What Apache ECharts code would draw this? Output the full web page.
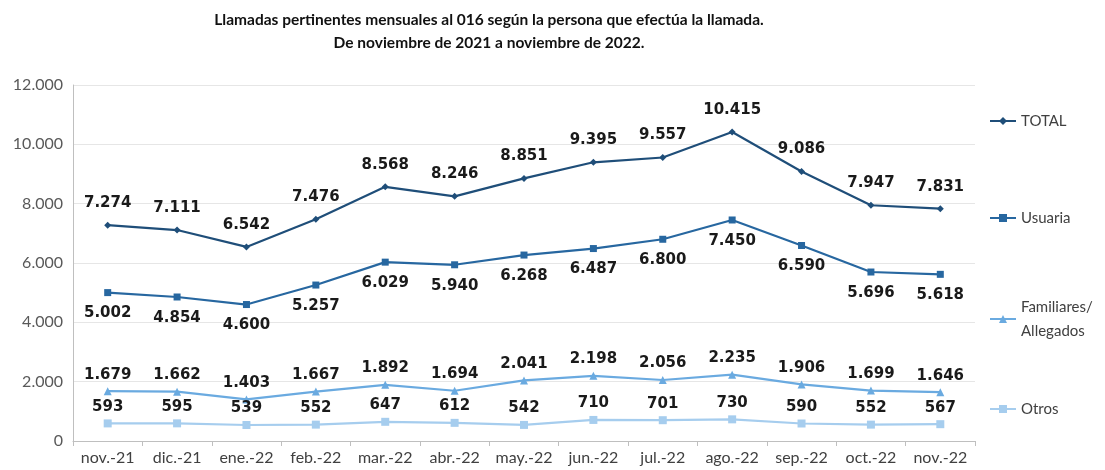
<!DOCTYPE html>
<html><head><meta charset="utf-8">
<script src="https://cdn.jsdelivr.net/npm/echarts@6/dist/echarts.min.js"></script>
<style>html,body{margin:0;padding:0;background:#fff}#c{width:1105px;height:470px}</style>
</head><body><div id="c"></div>
<script>
var categories = ['nov.-21','dic.-21','ene.-22','feb.-22','mar.-22','abr.-22','may.-22','jun.-22','jul.-22','ago.-22','sep.-22','oct.-22','nov.-22'];
var total = [7274,7111,6542,7476,8568,8246,8851,9395,9557,10415,9086,7947,7831];
var usuaria = [5002,4854,4600,5257,6029,5940,6268,6487,6800,7450,6590,5696,5618];
var familiares = [1679,1662,1403,1667,1892,1694,2041,2198,2056,2235,1906,1699,1646];
var otros = [593,595,539,552,647,612,542,710,701,730,590,552,567];
var seriesNames = ['TOTAL','Usuaria','Familiares/\nAllegados','Otros'];
var colors = ['#1F4E79','#2767A0','#6AAAE0','#A6CDEE'];

var fmt = function(v){ return String(v).replace(/\B(?=(\d{3})+(?!\d))/g,'.'); };
var font = "'Lato','Open Sans',sans-serif";
var boldFont = "'DejaVu Sans',sans-serif";
var chart = echarts.init(document.getElementById('c'));
function lab(pos, dist){
  return {show:true, position:pos, distance:dist, fontSize:15, fontWeight:'bold', color:'#1a1a1a', fontFamily:boldFont,
    formatter:function(p){return fmt(p.value);}};
}
function legend(i, top){
  return {data:[seriesNames[i]], left:984, top:top, orient:'vertical', itemWidth:26, itemHeight:10, itemGap:0,
    textStyle:{fontSize:15, color:'#404040', fontFamily:font, lineHeight:24}, selectedMode:false};
}
chart.setOption({
  animation:false,
  title:{text:'Llamadas pertinentes mensuales al 016 según la persona que efectúa la llamada.\nDe noviembre de 2021 a noviembre de 2022.',
    left:484, textAlign:'center', top:3,
    textStyle:{fontSize:15.5, fontWeight:'bold', color:'#111', fontFamily:font, lineHeight:23}},
  legend:[legend(0,104), legend(1,201), legend(2,290), legend(3,392)],
  grid:{left:73, right:130, top:85, bottom:29},
  xAxis:{type:'category', data:categories, boundaryGap:true,
    axisLine:{lineStyle:{color:'#bfbfbf'}}, axisTick:{show:true, lineStyle:{color:'#bfbfbf'}},
    axisLabel:{fontSize:16, color:'#404040', fontFamily:font, margin:9, interval:0}},
  yAxis:{type:'value', min:0, max:12000, interval:2000,
    axisLine:{show:true, lineStyle:{color:'#bfbfbf'}},
    splitLine:{lineStyle:{color:'#e6e6e6'}},
    axisLabel:{fontSize:16, color:'#595959', fontFamily:font, margin:10, formatter:function(v){return fmt(v);}}},
  series:[
    {name:seriesNames[0], type:'line', data:total, color:colors[0], symbol:'diamond', symbolSize:7,
      lineStyle:{width:2.2}, label:lab('top',11)},
    {name:seriesNames[1], type:'line', data:usuaria, color:colors[1], symbol:'rect', symbolSize:7,
      lineStyle:{width:2.2}, label:lab('bottom',10)},
    {name:seriesNames[2], type:'line', data:familiares, color:colors[2], symbol:'triangle', symbolSize:8,
      lineStyle:{width:2.2}, label:lab('top',5)},
    {name:seriesNames[3], type:'line', data:otros, color:colors[3], symbol:'rect', symbolSize:8,
      lineStyle:{width:2.2}, label:lab('top',5)}
  ]
});
</script></body></html>
